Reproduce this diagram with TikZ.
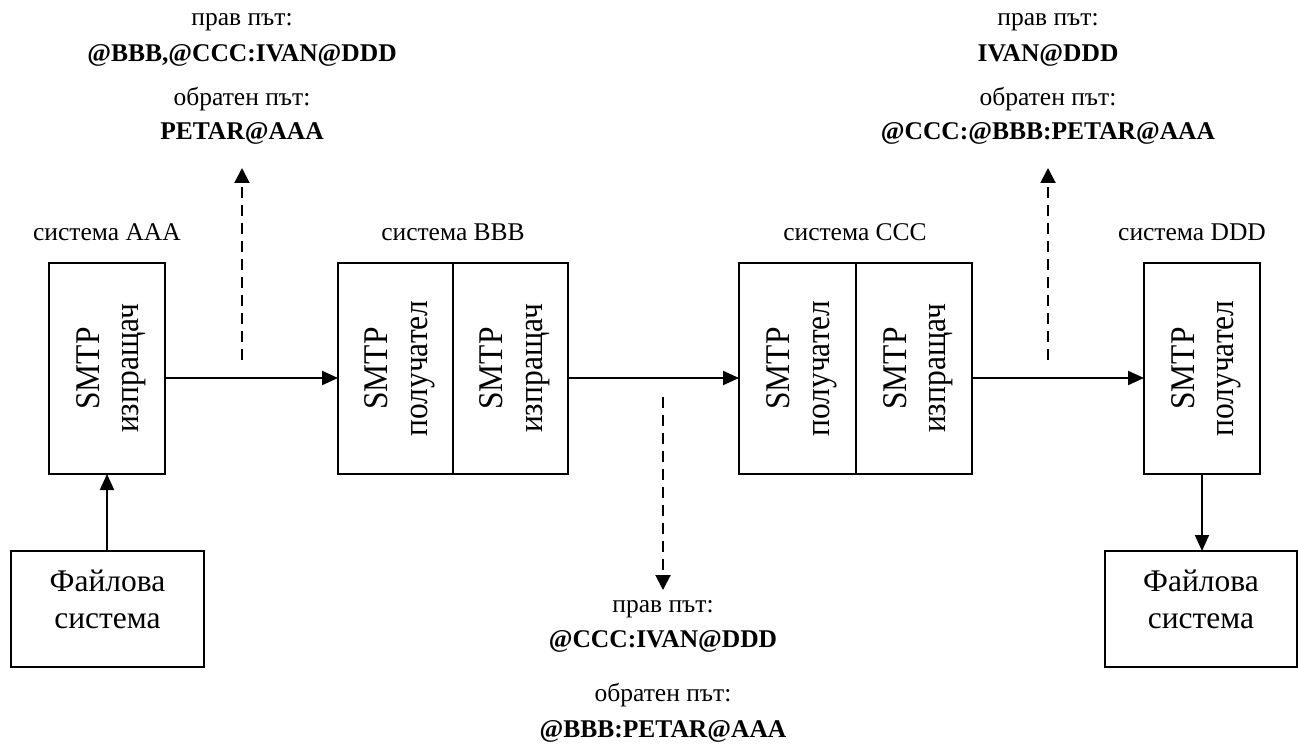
\documentclass[tikz,border=0pt]{standalone}
\usepackage{fontspec}
\usepackage{graphicx}
\setmainfont{Liberation Serif}
\usetikzlibrary{arrows.meta}
\newcommand{\boxtxt}[2]{\scalebox{1}[1.1]{\begin{tabular}{@{}c@{}}#1\\#2\end{tabular}}}
\begin{document}
\begin{tikzpicture}[x=1pt,y=-1pt,
  box/.style={draw, line width=1.5pt, inner sep=0pt, outer sep=0pt},
  lbl/.style={font=\fontsize{25.5}{30}\selectfont, inner sep=0pt, anchor=base},
  inbox/.style={font=\fontsize{31.5}{36}\selectfont, rotate=90, inner sep=0pt},
  fstext/.style={font=\fontsize{31.5}{37}\selectfont, align=center, inner sep=0pt},
  arr/.style={line width=2pt, -{Triangle[length=16pt,width=14pt]}},
  darr/.style={line width=2pt, dash pattern=on 11pt off 7pt, -{Triangle[length=15pt,width=15pt]}}]
\useasboundingbox (0,0) rectangle (1298,751);

% boxes
\node[box, minimum width=116pt, minimum height=211pt] (aaa) at (107,368.5) {};
\node[box, minimum width=115pt, minimum height=211pt] (bbbL) at (395.5,368.5) {};
\node[box, minimum width=115pt, minimum height=211pt] (bbbR) at (510.5,368.5) {};
\node[box, minimum width=117pt, minimum height=211pt] (cccL) at (797.5,368.5) {};
\node[box, minimum width=116pt, minimum height=211pt] (cccR) at (914,368.5) {};
\node[box, minimum width=116pt, minimum height=211pt] (ddd) at (1202,368.5) {};
\node[box, minimum width=193pt, minimum height=116pt] (fsL) at (107.5,609) {};
\node[box, minimum width=192pt, minimum height=116pt] (fsR) at (1201,609) {};

% box texts
\node[inbox] (taaa) at ([xshift=4pt]aaa.center) {\boxtxt{SMTP}{изпращач}};
\node[inbox] (tbbbL) at ([xshift=4pt]bbbL.center) {\boxtxt{SMTP}{получател}};
\node[inbox] (tbbbR) at ([xshift=4pt]bbbR.center) {\boxtxt{SMTP}{изпращач}};
\node[inbox] (tcccL) at ([xshift=4pt]cccL.center) {\boxtxt{SMTP}{получател}};
\node[inbox] (tcccR) at ([xshift=4pt]cccR.center) {\boxtxt{SMTP}{изпращач}};
\node[inbox] (tddd) at ([xshift=4pt]ddd.center) {\boxtxt{SMTP}{получател}};
\node[fstext] (tfsL) at ([yshift=10pt]fsL.center) {Файлова\\система};
\node[fstext] (tfsR) at ([yshift=10pt]fsR.center) {Файлова\\система};

% system labels
\node[lbl] (sA) at (107,241) {система AAA};
\node[lbl] (sB) at (453,241) {система BBB};
\node[lbl] (sC) at (855,241) {система CCC};
\node[lbl] (sD) at (1192,241) {система DDD};

% solid arrows
\coordinate (ay) at (0,378);
\draw[arr] (aaa.east |- ay) -- (bbbL.west |- ay);
\draw[arr] (bbbR.east |- ay) -- (cccL.west |- ay);
\draw[arr] (cccR.east |- ay) -- (ddd.west |- ay);
\draw[arr] (fsL.north -| aaa.south) -- (aaa.south);
\draw[arr] (ddd.south) -- (ddd.south |- fsR.north);

% dashed arrows
\coordinate (d1s) at (242,360);
\coordinate (d1e) at (242,168);
\coordinate (d2s) at (663,397);
\coordinate (d2e) at (663,590);
\coordinate (d3s) at (1048,360);
\coordinate (d3e) at (1048,168);
\draw[darr] (d1s) -- (d1e);
\draw[darr] (d2s) -- (d2e);
\draw[darr] (d3s) -- (d3e);

% path labels, top left
\node[lbl] (l1a) at (242,26) {прав път:};
\node[lbl] (l1b) at (242,62) {\textbf{@BBB,@CCC:IVAN@DDD}};
\node[lbl] (l1c) at (242,106) {обратен път:};
\node[lbl] (l1d) at (242,140) {\textbf{PETAR@AAA}};
% top right
\node[lbl] (l3a) at (1048,26) {прав път:};
\node[lbl] (l3b) at (1048,62) {\textbf{IVAN@DDD}};
\node[lbl] (l3c) at (1048,106) {обратен път:};
\node[lbl] (l3d) at (1048,140) {\textbf{@CCC:@BBB:PETAR@AAA}};
% bottom
\node[lbl] (l2a) at (663,612) {прав път:};
\node[lbl] (l2b) at (663,647) {\textbf{@CCC:IVAN@DDD}};
\node[lbl] (l2c) at (663,701) {обратен път:};
\node[lbl] (l2d) at (663,737) {\textbf{@BBB:PETAR@AAA}};
\end{tikzpicture}
\end{document}
